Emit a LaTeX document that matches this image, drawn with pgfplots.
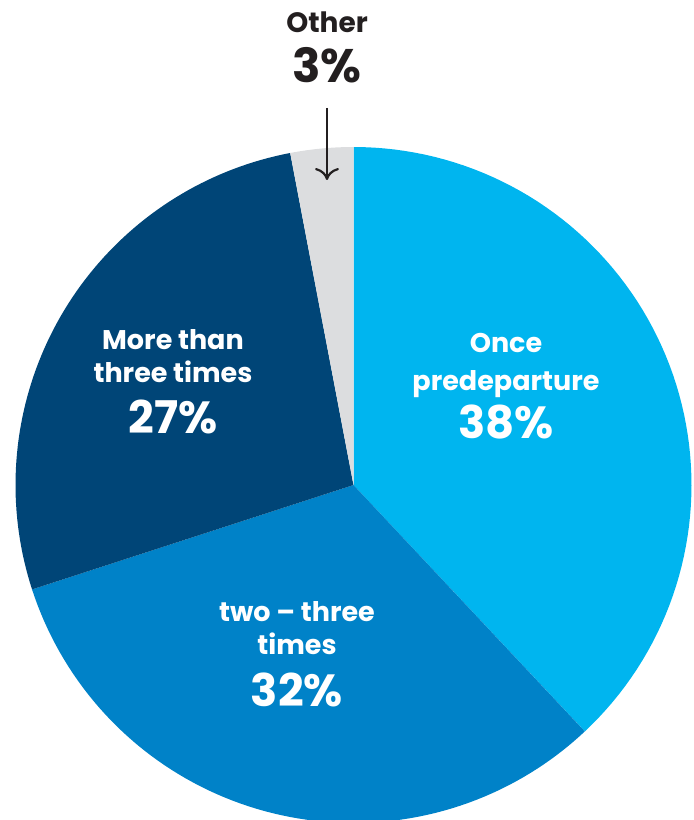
\documentclass[border=0pt]{standalone}
\usepackage{pgfplots}
\pgfplotsset{compat=1.18}
\usetikzlibrary{arrows.meta}
\usepackage{fontspec}
\setmainfont{Poppins}
\definecolor{cOnce}{HTML}{00B5EF}
\definecolor{cTwo}{HTML}{0082C8}
\definecolor{cMore}{HTML}{004577}
\definecolor{cOther}{HTML}{DCDDDF}
\definecolor{cText}{HTML}{231F20}
% slice values (percent), clockwise from 12 o'clock
\def\vOnce{38}\def\vTwo{32}\def\vMore{27}\def\vOther{3}
\begin{document}
\begin{tikzpicture}
\begin{axis}[
  width=347pt, height=410pt, scale only axis,
  xmin=0, xmax=694, ymin=0, ymax=820,
  hide axis, clip=true,
]
\pgfmathsetmacro{\aA}{90}
\pgfmathsetmacro{\aB}{\aA-3.6*\vOnce}
\pgfmathsetmacro{\aC}{\aB-3.6*\vTwo}
\pgfmathsetmacro{\aD}{\aC-3.6*\vMore}
\pgfmathsetmacro{\aE}{\aD-3.6*\vOther}
\addplot[fill=cOnce, draw=none, domain=\aB:\aA, samples=80, variable=\t]
  ({353.5+338*cos(\t)},{335+338*sin(\t)}) -- (axis cs:353.5,335) -- cycle;
\addplot[fill=cTwo, draw=none, domain=\aC:\aB, samples=80, variable=\t]
  ({353.5+338*cos(\t)},{335+338*sin(\t)}) -- (axis cs:353.5,335) -- cycle;
\addplot[fill=cMore, draw=none, domain=\aD:\aC, samples=80, variable=\t]
  ({353.5+338*cos(\t)},{335+338*sin(\t)}) -- (axis cs:353.5,335) -- cycle;
\addplot[fill=cOther, draw=none, domain=\aE:\aD, samples=20, variable=\t]
  ({353.5+338*cos(\t)},{335+338*sin(\t)}) -- (axis cs:353.5,335) -- cycle;
% arrow to Other
\addplot[cText, line width=1.1pt, -{To[length=6pt,width=12pt]}] coordinates {(327,712) (327,640)};
% labels
\node[anchor=base, text=cText, font=\fontsize{14}{16}\selectfont\bfseries] at (axis cs:327,787) {Other};
\node[anchor=base, text=cText, font=\fontsize{23.5}{26}\selectfont\bfseries] at (axis cs:327,737) {3\%};
\node[anchor=base, text=white, font=\fontsize{13.5}{15}\selectfont\bfseries] at (axis cs:173,470) {More than};
\node[anchor=base, text=white, font=\fontsize{13.5}{15}\selectfont\bfseries] at (axis cs:173,437) {three times};
\node[anchor=base, text=white, font=\fontsize{22.5}{25}\selectfont\bfseries] at (axis cs:173,386) {27\%};
\node[anchor=base, text=white, font=\fontsize{13.5}{15}\selectfont\bfseries] at (axis cs:506,467) {Once};
\node[anchor=base, text=white, font=\fontsize{13.5}{15}\selectfont\bfseries] at (axis cs:506,429) {predeparture};
\node[anchor=base, text=white, font=\fontsize{22.5}{25}\selectfont\bfseries] at (axis cs:506,381) {38\%};
\node[anchor=base, text=white, font=\fontsize{13.5}{15}\selectfont\bfseries] at (axis cs:297,198) {two -- three};
\node[anchor=base, text=white, font=\fontsize{13.5}{15}\selectfont\bfseries] at (axis cs:297,165) {times};
\node[anchor=base, text=white, font=\fontsize{22.5}{25}\selectfont\bfseries] at (axis cs:297,113) {32\%};
\end{axis}
\pgfresetboundingbox
\useasboundingbox (current axis.south west) rectangle (current axis.north east);
\end{tikzpicture}
\end{document}
